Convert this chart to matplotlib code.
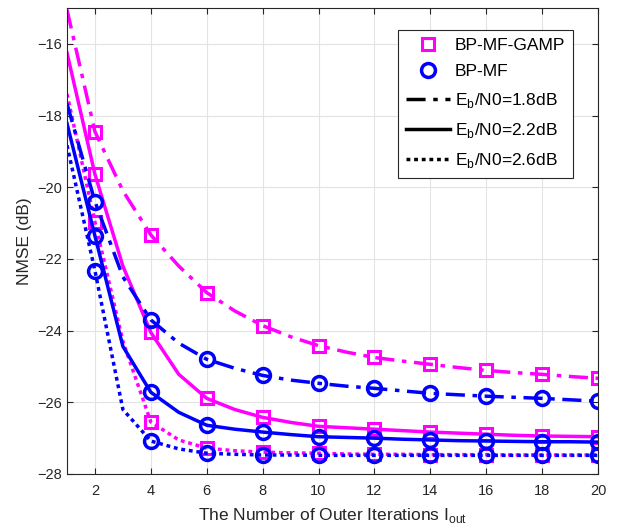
import numpy as np
import matplotlib.pyplot as plt
from matplotlib.lines import Line2D

plt.rcParams['font.family'] = ['Liberation Sans', 'DejaVu Sans']

# outer iterations
it = np.arange(1, 21)

# BP-MF-GAMP, Eb/N0 = 1.8 / 2.2 / 2.6 dB
gamp_18 = [-15.05, -18.45, -20.1, -21.33, -22.2, -22.94, -23.45, -23.86, -24.17, -24.42,
           -24.6, -24.75, -24.85, -24.94, -25.03, -25.11, -25.17, -25.22, -25.28, -25.33]
gamp_22 = [-16.25, -19.64, -22.2, -24.05, -25.22, -25.89, -26.2, -26.42, -26.56, -26.67,
           -26.71, -26.75, -26.79, -26.83, -26.86, -26.89, -26.92, -26.94, -26.95, -26.96]
gamp_26 = [-17.4, -20.97, -24.3, -26.55, -27.05, -27.28, -27.35, -27.39, -27.41, -27.42,
           -27.44, -27.45, -27.45, -27.46, -27.46, -27.46, -27.47, -27.47, -27.47, -27.47]

# BP-MF
mf_18 = [-17.67, -20.4, -22.5, -23.7, -24.35, -24.8, -25.05, -25.25, -25.38, -25.47,
         -25.55, -25.61, -25.68, -25.75, -25.79, -25.83, -25.86, -25.89, -25.93, -25.97]
mf_22 = [-18.22, -21.36, -24.44, -25.72, -26.28, -26.64, -26.75, -26.83, -26.9, -26.96,
         -26.98, -27.0, -27.03, -27.05, -27.07, -27.08, -27.09, -27.1, -27.1, -27.11]
mf_26 = [-18.83, -22.33, -26.2, -27.08, -27.3, -27.42, -27.45, -27.47, -27.47, -27.48,
         -27.48, -27.48, -27.48, -27.48, -27.48, -27.48, -27.48, -27.48, -27.48, -27.48]

snr_labels = ['E$_\\mathregular{b}$/N0=1.8dB', 'E$_\\mathregular{b}$/N0=2.2dB',
              'E$_\\mathregular{b}$/N0=2.6dB']

dashdot = (0, (5.5, 2.2, 1.3, 2.2))
dotted = (0, (1.1, 1.1))
styles = [dashdot, '-', dotted]

fig = plt.figure(figsize=(6.19, 5.31), dpi=100)
ax = fig.add_axes([67 / 619, 57 / 531, 531 / 619, 466 / 531])

mag = '#ff00ff'
blu = '#0000ff'
lw = 2.5
for ys, ls in zip([gamp_18, gamp_22, gamp_26], styles):
    ax.plot(it, ys, color=mag, lw=lw, ls=ls, marker='s', markevery=slice(1, None, 2),
            ms=8.3, mfc='none', mec=mag, mew=2.2)
for ys, ls in zip([mf_18, mf_22, mf_26], styles):
    ax.plot(it, ys, color=blu, lw=lw, ls=ls, marker='o', markevery=slice(1, None, 2),
            ms=10, mfc='none', mec=blu, mew=2.5)

ax.set_xlim(1, 20)
ax.set_ylim(-28, -15)
ax.set_xticks(np.arange(2, 21, 2))
ax.set_yticks(np.arange(-28, -15, 2))
ax.grid(True, color='#e3e3e3', lw=0.8)
ax.set_axisbelow(True)
ax.tick_params(direction='in', top=True, right=True, labelsize=10.5, colors='#262626',
               length=4)
ax.tick_params(axis='x', pad=7.5)
for s in ax.spines.values():
    s.set_color('#262626')
    s.set_linewidth(0.8)

ax.set_xlabel('The Number of Outer Iterations I$_\\mathregular{out}$', fontsize=12.5,
              color='#262626', labelpad=5.5)
ax.set_ylabel('NMSE (dB)', fontsize=12.5, color='#262626')

handles = [
    Line2D([], [], ls='none', marker='s', ms=8.3, mfc='none', mec=mag, mew=2.2),
    Line2D([], [], ls='none', marker='o', ms=10, mfc='none', mec=blu, mew=2.5),
] + [Line2D([], [], color='black', lw=lw, ls=ls) for ls in styles]
labels = ['BP-MF-GAMP', 'BP-MF'] + snr_labels
leg = ax.legend(handles, labels, loc='upper right', bbox_to_anchor=(0.953, 0.953),
                borderaxespad=0, fontsize=12.5, fancybox=False, edgecolor='#262626',
                framealpha=1, handlelength=2.5, handletextpad=0.3, labelspacing=0.65,
                borderpad=0.45)
leg.get_frame().set_linewidth(0.8)

fig.savefig('out.png', dpi=100)
